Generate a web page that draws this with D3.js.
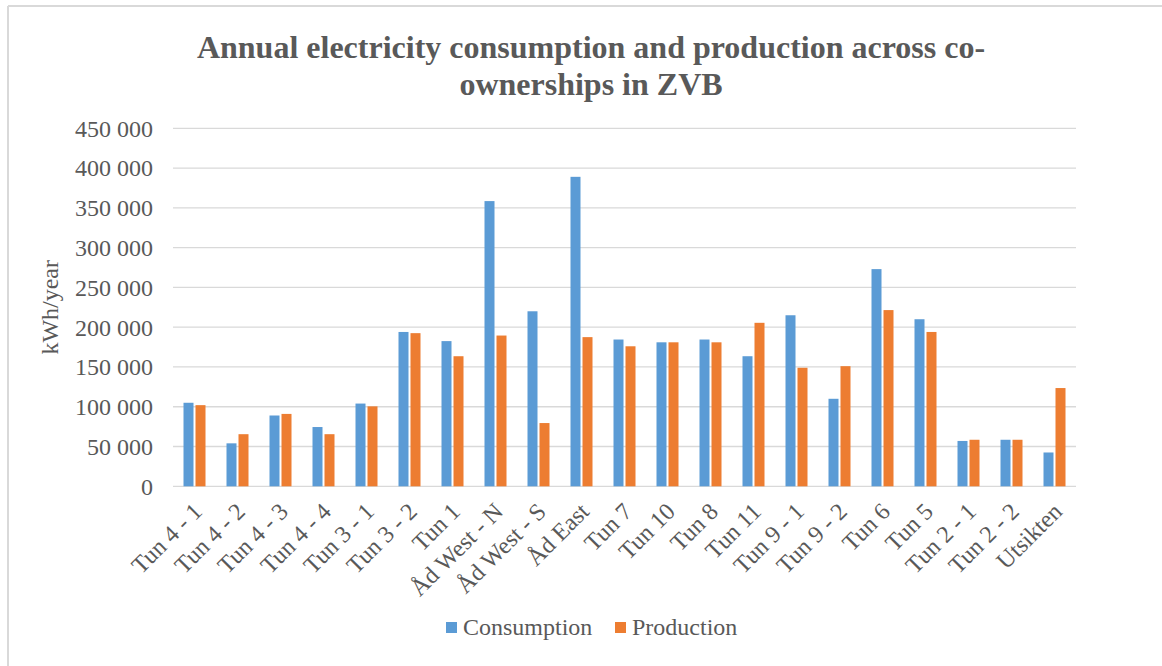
<!DOCTYPE html>
<html>
<head>
<meta charset="utf-8">
<script src="https://cdn.jsdelivr.net/npm/d3@7"></script>
<style>
  html, body { margin: 0; padding: 0; background: #fff; }
  svg { display: block; }
  text { font-family: "Liberation Serif", "Times New Roman", serif; fill: #595959; }
</style>
</head>
<body>
<svg id="chart" width="1162" height="666"></svg>
<script>
const categories = ["Tun 4 - 1", "Tun 4 - 2", "Tun 4 - 3", "Tun 4 - 4", "Tun 3 - 1", "Tun 3 - 2", "Tun 1",
  "Åd West - N", "Åd West - S", "Åd East", "Tun 7", "Tun 10", "Tun 8", "Tun 11", "Tun 9 - 1", "Tun 9 - 2",
  "Tun 6", "Tun 5", "Tun 2 - 1", "Tun 2 - 2", "Utsikten"];
const consumption = [105000, 54000, 89000, 74500, 104000, 194000, 182500, 358500, 220000, 389000, 184500,
  181000, 184500, 163500, 215000, 110000, 273000, 210000, 57000, 58500, 42500];
const production = [102000, 65500, 91000, 65500, 100500, 192500, 163500, 189500, 79500, 187500, 176000,
  181000, 181000, 205500, 149000, 151000, 221500, 194000, 58500, 58500, 123500];
const yTicks = [0, 50000, 100000, 150000, 200000, 250000, 300000, 350000, 400000, 450000];
const seriesNames = ["Consumption", "Production"];
const seriesColors = ["#5b9bd5", "#ed7d31"];
const titleLines = ["Annual electricity consumption and production across co-", "ownerships in ZVB"];
const yTitle = "kWh/year";

(function () {
const svg = d3.select("#chart");
const pLeft = 173, pRight = 1076, pTop = 128.3, pBottom = 486.3;

// frame (top and left edges visible)
svg.append("line").attr("x1", 8).attr("x2", 1162).attr("y1", 6).attr("y2", 6)
  .attr("stroke", "#d9d9d9").attr("stroke-width", 2);
svg.append("line").attr("x1", 8).attr("x2", 8).attr("y1", 6).attr("y2", 666)
  .attr("stroke", "#d9d9d9").attr("stroke-width", 2);

const x = d3.scaleBand().domain(categories).range([pLeft, pRight]).padding(0);
const y = d3.scaleLinear().domain([0, 450000]).range([pBottom, pTop]);
const fmt = v => d3.format(",")(v).replace(/,/g, " ");

// gridlines
svg.append("g").selectAll("line").data(yTicks).join("line")
  .attr("x1", pLeft).attr("x2", pRight)
  .attr("y1", d => y(d)).attr("y2", d => y(d))
  .attr("stroke", "#d9d9d9").attr("stroke-width", 1.3);

// y tick labels
svg.append("g").selectAll("text").data(yTicks).join("text")
  .attr("x", 153).attr("y", d => y(d)).attr("dy", "0.35em")
  .attr("text-anchor", "end").attr("font-size", 24)
  .text(fmt);

// y title
svg.append("text")
  .attr("transform", `translate(58,${(pTop + pBottom) / 2}) rotate(-90)`)
  .attr("text-anchor", "middle").attr("font-size", 24)
  .text(yTitle);

// bars
const barW = 10, gap = 2;
const groups = [consumption, production];
groups.forEach((vals, si) => {
  svg.append("g").selectAll("rect").data(vals).join("rect")
    .attr("x", (d, i) => x(categories[i]) + x.bandwidth() / 2 + (si === 0 ? -(barW + gap / 2) : gap / 2))
    .attr("y", d => y(d))
    .attr("width", barW)
    .attr("height", d => y(0) - y(d))
    .attr("fill", seriesColors[si]);
});

// x labels
svg.append("g").selectAll("text").data(categories).join("text")
  .attr("transform", d => `translate(${x(d) + x.bandwidth() / 2 + 3},${507}) rotate(-45)`)
  .attr("text-anchor", "end").attr("dy", "0.35em").attr("font-size", 24)
  .text(d => d);

// title
svg.append("g").selectAll("text").data(titleLines).join("text")
  .attr("x", 591).attr("y", (d, i) => 58 + i * 37)
  .attr("text-anchor", "middle").attr("font-size", 32).attr("font-weight", "bold")
  .text(d => d);

// legend
const legendX = [446, 615];
seriesNames.forEach((name, i) => {
  svg.append("rect").attr("x", legendX[i]).attr("y", 622).attr("width", 11).attr("height", 11)
    .attr("fill", seriesColors[i]);
  svg.append("text").attr("x", legendX[i] + 17).attr("y", 635).attr("font-size", 24).text(name);
});
})();
</script>
</body>
</html>
